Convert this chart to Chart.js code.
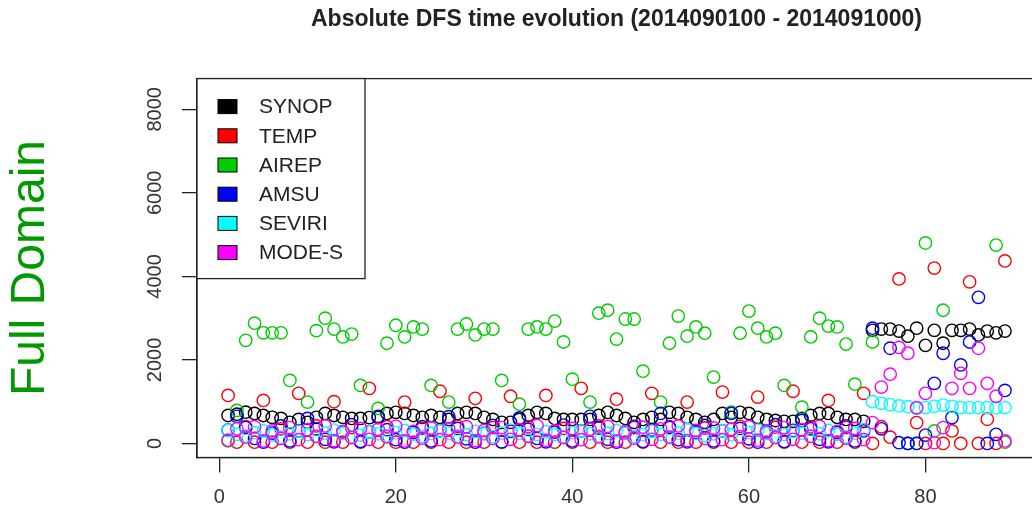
<!DOCTYPE html>
<html>
<head>
<meta charset="utf-8">
<script src="https://cdn.jsdelivr.net/npm/chart.js@4"></script>
<style>
  html, body { margin: 0; padding: 0; background: #fff; overflow: hidden; }
  #wrap { width: 1050px; height: 514px; }
</style>
</head>
<body>
<div id="wrap"><canvas id="dfsChart" width="1050" height="514"></canvas></div>
<script>
// time index (6-hourly steps, 1..89)
const steps = Array.from({ length: 89 }, (_, i) => i + 1)
const xTicks = [0, 20, 40, 60, 80]
const yTicks = [0, 2000, 4000, 6000, 8000]

const seriesNames = ['SYNOP', 'TEMP', 'AIREP', 'AMSU', 'SEVIRI', 'MODE-S']
const seriesColors = ['#000000', '#FF0000', '#00CD00', '#0000FF', '#00FFFF', '#FF00FF']

const synop = [670,700,750,720,670,625,600,505,575,505, 625,720,670,625,600,600,620,650,720,745,
  720,670,625,670,625,575,720,745,720,625, 575,505,505,575,670,745,720,600,575,575,
  575,575,670,745,670,600,505,575,625,575, 745,720,625,575,505,575,720,625,745,720,
  625,575,550,530,530,600,670,720,720,625, 575,575,530,
  2710,2740,2740,2690,2570,2760,2350,2710,2400,2710,2710,2740,2600,2690,2650,2690]

const temp = [1150,30,400,30,1030,30,350,30,1200,30, 420,30,1000,30,380,30,1320,30,400,30,
  990,30,360,30,1250,30,410,30,1080,30, 380,30,1130,30,400,30,1150,30,360,30,
  1320,30,420,30,1060,30,380,30,1200,30, 400,30,990,30,370,30,1230,30,410,30,
  1110,30,390,30,1250,30,400,30,1030,30, 380,30,1200,
  0,400,150,3940,0,500,0,4200,0,300,0,3870,0,580,0,4370]

// null = no circle visible in the picture
const airep = [60,790,2470,2880,2650,2650,2650,1510,null,990, 2700,3000,2740,2550,2620,1390,null,840,2400,2830,
  2550,2790,2740,1390,null,990,2740,2860,2600,2740, 2740,1510,null,940,2740,2790,2740,2930,2430,1540,
  null,990,3120,3190,2500,2980,2980,1730,null,990, 2400,3050,2570,2790,2640,1590,null,750,2640,3170,
  2760,2550,2640,1390,null,870,2550,3000,2810,2790, 2380,1420,null,
  2430,null,null,null,0,0,4800,300,3190,null,null,null,null,null,4750,30]

const amsu = [320,650,380,120,30,250,420,60,300,600, 350,100,40,280,450,50,280,620,330,90,
  30,260,400,60,310,640,360,110,30,240, 430,40,290,610,340,120,40,270,440,60,
  300,650,370,100,30,250,410,50,320,720, 380,90,40,260,430,60,300,720,360,110,
  30,280,450,50,310,550,350,100,40,260, 420,60,300,
  2760,350,2280,20,0,0,200,1440,2160,620,1880,2430,3500,0,220,1270]

const seviri = [310,220,180,260,300,200,150,230,290,210, 170,250,320,240,160,200,280,230,190,260,
  310,220,170,240,300,250,180,210,290,230, 160,250,320,240,190,220,280,210,170,260,
  300,230,180,240,310,250,170,210,290,220, 160,250,330,240,190,230,300,210,170,260,
  320,240,180,220,290,250,170,230,310,220, 160,250,330,
  1000,960,930,900,880,840,860,890,920,890,860,860,860,860,850,860]

const modeS = [80,350,150,400,60,300,120,380,90,330, 170,420,70,280,140,360,100,340,160,410,
  60,290,130,370,90,350,150,400,70,310, 120,380,100,330,170,430,80,300,140,360,
  90,340,160,410,60,280,130,390,100,350, 150,420,70,310,120,370,90,340,160,400,
  80,300,140,380,100,330,170,410,70,290, 130,360,90,
  500,1350,1660,2300,2160,860,1200,20,380,1320,1680,1320,2280,1440,1130,60]

const allSeries = [synop, temp, airep, amsu, seviri, modeS]

const fontFamily = '"Liberation Sans", Arial, Helvetica, sans-serif'
const inkColor = '#222'

const datasets = allSeries.map((values, i) => ({
    label: seriesNames[i],
    data: steps.map((x, j) => ({ x: x, y: values[j] })),
    borderColor: seriesColors[i],
    backgroundColor: 'rgba(0,0,0,0)',
    pointStyle: 'circle',
    pointRadius: 6.2,
    pointBorderWidth: 1.4,
    pointHoverRadius: 6.2,
    showLine: false,
    // R draws the first series first, so it ends up at the bottom
    order: allSeries.length - i
}))

// box round the plot, rotated y labels and the in-plot legend (R style)
const rStylePlugin = {
    id: 'rStyle',
    afterDatasetsDraw(chart) {
        const { ctx, chartArea } = chart
        const yScale = chart.scales.y

        ctx.save()
        ctx.strokeStyle = inkColor
        ctx.lineWidth = 1.3
        ctx.strokeRect(chartArea.left, chartArea.top, chartArea.right - chartArea.left, chartArea.bottom - chartArea.top)

        // legend
        const lx = chartArea.left, ly = chartArea.top
        const lw = 168, lh = 200
        ctx.fillStyle = '#fff'
        ctx.fillRect(lx, ly, lw, lh)
        ctx.strokeRect(lx, ly, lw, lh)
        ctx.font = '21px ' + fontFamily
        ctx.textBaseline = 'middle'
        ctx.textAlign = 'left'
        chart.data.datasets.forEach((ds, i) => {
            const cy = ly + 28 + i * 29.2
            ctx.fillStyle = ds.borderColor
            ctx.fillRect(lx + 21, cy - 7, 19, 14)
            ctx.lineWidth = 1
            ctx.strokeStyle = '#000'
            ctx.strokeRect(lx + 21, cy - 7, 19, 14)
            ctx.fillStyle = inkColor
            ctx.fillText(ds.label, lx + 62, cy + 1)
        })

        // y tick labels, rotated like R's las=0
        ctx.font = '20px ' + fontFamily
        ctx.fillStyle = '#333'
        ctx.textAlign = 'center'
        ctx.textBaseline = 'middle'
        yTicks.forEach(v => {
            const py = yScale.getPixelForValue(v)
            ctx.save()
            ctx.translate(155, py)
            ctx.rotate(-Math.PI / 2)
            ctx.fillText(String(v), 0, 0)
            ctx.restore()
        })
        ctx.restore()
    }
}

new Chart('dfsChart', {
    type: 'scatter',
    data: { datasets: datasets },
    plugins: [rStylePlugin],
    options: {
        responsive: false,
        animation: false,
        layout: { padding: { left: 0, right: 14, top: 0, bottom: 0 } },
        plugins: {
            legend: { display: false },
            tooltip: { enabled: false },
            title: {
                display: true,
                fullSize: false,
                text: 'Absolute DFS time evolution (2014090100 - 2014091000)',
                color: inkColor,
                font: { family: fontFamily, size: 23, weight: 'bold' },
                padding: { top: 6, bottom: 45 }
            }
        },
        scales: {
            x: {
                type: 'linear',
                min: -2.52,
                max: 92.52,
                afterBuildTicks: scale => { scale.ticks = xTicks.map(v => ({ value: v })) },
                afterFit: scale => { scale.height = 56.5 },
                grid: { drawOnChartArea: false, drawTicks: true, tickLength: 15, color: inkColor, lineWidth: 1.3 },
                border: { display: true, color: inkColor, width: 1.3 },
                ticks: {
                    color: '#333',
                    padding: 13,
                    maxRotation: 0,
                    font: { family: fontFamily, size: 20 }
                }
            },
            y: {
                type: 'linear',
                min: -336,
                max: 8736,
                afterBuildTicks: scale => { scale.ticks = yTicks.map(v => ({ value: v })) },
                afterFit: scale => { scale.width = 197 },
                grid: { drawOnChartArea: false, drawTicks: true, tickLength: 15, color: inkColor, lineWidth: 1.3 },
                border: { display: true, color: inkColor, width: 1.3 },
                ticks: { display: false },
                title: {
                    display: true,
                    text: 'Full Domain',
                    color: '#009900',
                    font: { family: fontFamily, size: 48, lineHeight: 1 },
                    padding: { top: 7, bottom: 0 }
                }
            }
        }
    }
});
</script>
</body>
</html>
